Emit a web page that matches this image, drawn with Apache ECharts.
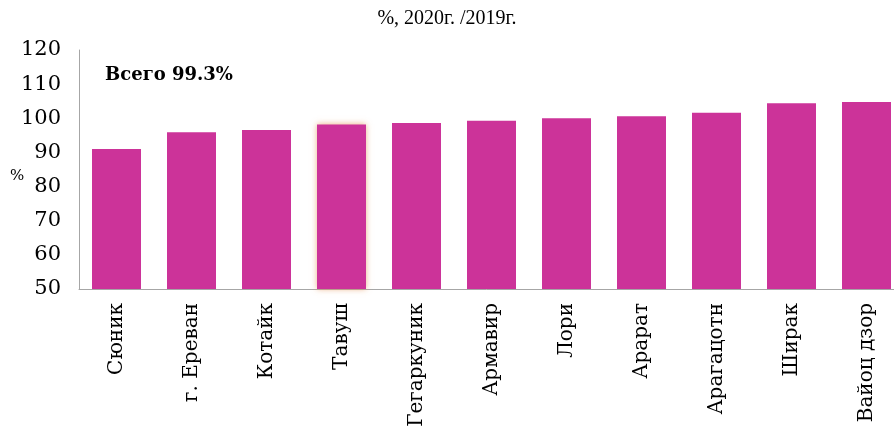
<!DOCTYPE html>
<html>
<head>
<meta charset="utf-8">
<script src="https://cdn.jsdelivr.net/npm/echarts@6/dist/echarts.min.js"></script>
<style>
  html, body { margin: 0; padding: 0; background: #fff; }
  #chart { width: 894px; height: 433px; }
</style>
</head>
<body>
<div id="chart"></div>
<script>
  // регионы и индексы, %, 2020г. / 2019г.
  var regions = ['Сюник', 'г. Ереван', 'Котайк', 'Тавуш', 'Гегаркуник', 'Армавир', 'Лори', 'Арарат', 'Арагацотн', 'Ширак', 'Вайоц дзор'];
  var values = [91.0, 95.9, 96.6, 98.2, 98.6, 99.3, 100.0, 100.6, 101.6, 104.4, 104.8];
  var yTicks = [50, 120, 10]; // min, max, interval
  var totalText = 'Всего 99.3%';

  var barColor = '#cc3399';
  var axisColor = '#a6a6a6';

  var barData = values.map(function (v, i) {
    if (regions[i] === 'Тавуш') {
      return { value: v, itemStyle: { shadowBlur: 6, shadowColor: 'rgba(230,150,90,0.7)' } };
    }
    return v;
  });

  var myChart = echarts.init(document.getElementById('chart'));
  myChart.setOption({
    animation: false,
    backgroundColor: '#fff',
    title: {
      text: '%, 2020г. /2019г.',
      left: 'center',
      top: 4,
      textStyle: { fontFamily: 'Liberation Serif', fontWeight: 'normal', fontSize: 20, color: '#000' }
    },
    grid: { left: 79, width: 825, top: 50, bottom: 144, outerBoundsMode: 'none', containLabel: false },
    xAxis: {
      type: 'category',
      data: regions,
      axisLine: { lineStyle: { color: axisColor, width: 1 } },
      axisTick: { show: false },
      axisLabel: {
        rotate: 90,
        margin: 14,
        interval: 0,
        fontFamily: 'DejaVu Serif',
        fontSize: 20,
        color: '#000'
      }
    },
    yAxis: {
      type: 'value',
      min: yTicks[0],
      max: yTicks[1],
      interval: yTicks[2],
      axisLine: { show: true, lineStyle: { color: axisColor, width: 1 } },
      axisTick: { show: false },
      splitLine: { show: false },
      axisLabel: {
        margin: 18,
        fontFamily: 'DejaVu Serif',
        fontSize: 21,
        color: '#000'
      }
    },
    graphic: [
      {
        type: 'text',
        left: 105,
        top: 66,
        style: { text: totalText, font: 'bold 18px "DejaVu Serif"', fill: '#000' }
      },
      {
        type: 'text',
        left: 10,
        top: 169,
        style: { text: '%', font: '15px "DejaVu Serif"', fill: '#000' }
      }
    ],
    series: [
      {
        type: 'bar',
        data: barData,
        barWidth: 49,
        itemStyle: { color: barColor }
      }
    ]
  });
</script>
</body>
</html>
